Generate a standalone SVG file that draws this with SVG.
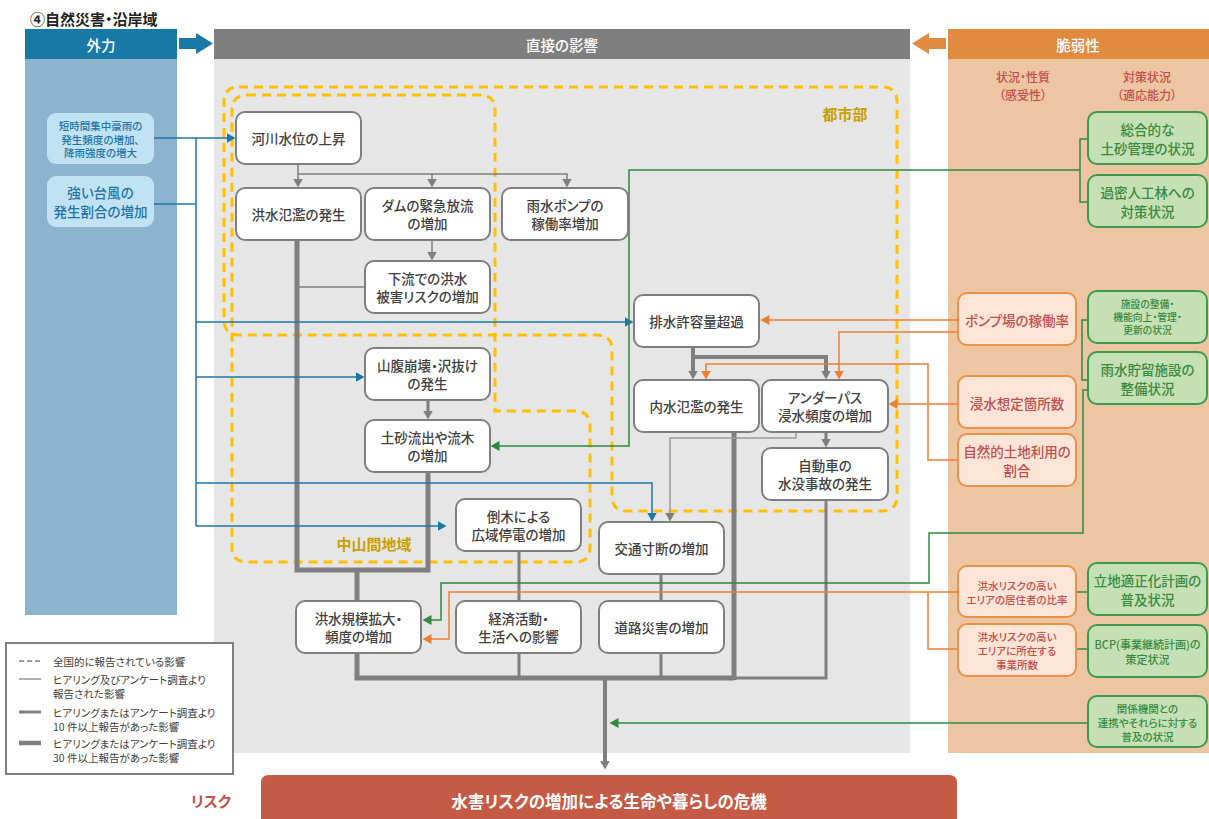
<svg xmlns="http://www.w3.org/2000/svg" width="1209" height="819" viewBox="0 0 1209 819">
<defs>
<style>
text{font-family:"Noto Sans CJK JP","Noto Sans",sans-serif;font-feature-settings:"palt" 1;}
.node rect{fill:#fff;stroke:#7f7f7f;stroke-width:2}
.nt{font-size:13.5px;fill:#404040;text-anchor:middle;dominant-baseline:central;font-weight:500}
.gbox rect{fill:#c5e0b4;stroke:#3d9a4a;stroke-width:2}
.gt{fill:#3a8a42;text-anchor:middle;dominant-baseline:central;font-weight:500}
.obox rect{fill:#fce4d6;stroke:#e8924a;stroke-width:2}
.ot{fill:#c0504d;text-anchor:middle;dominant-baseline:central;font-weight:500}
.bbox rect{fill:#c0e2f2;stroke:none}
.bt{fill:#1f74a8;text-anchor:middle;dominant-baseline:central;font-weight:500}
.hd{fill:#fff;font-size:14.5px;text-anchor:middle;dominant-baseline:central;font-weight:500}
.zone{fill:none;stroke:#ffc000;stroke-width:3;stroke-dasharray:9 6}
.zl{fill:#c9a000;font-size:15px;font-weight:bold;text-anchor:middle;dominant-baseline:central}
.g1{fill:none;stroke:#7f7f7f;stroke-width:1.5}
.g1l{fill:none;stroke:#9a9a9a;stroke-width:1.5}
.g3{fill:none;stroke:#7f7f7f;stroke-width:3}
.g4{fill:none;stroke:#7f7f7f;stroke-width:4}
.g5{fill:none;stroke:#7f7f7f;stroke-width:5}
.bl{fill:none;stroke:#1b77a8;stroke-width:1.5}
.gr{fill:none;stroke:#2e8b3e;stroke-width:1.5}
.or{fill:none;stroke:#ed7d31;stroke-width:1.5}
.lg{font-size:10.5px;fill:#404040;dominant-baseline:central}
</style>
<marker id="ag" markerUnits="userSpaceOnUse" markerWidth="10" markerHeight="10" refX="0.5" refY="5" orient="auto"><path d="M0,0 L9,5 L0,10 z" fill="#7f7f7f"/></marker>
<marker id="ab" markerUnits="userSpaceOnUse" markerWidth="10" markerHeight="10" refX="0.5" refY="5" orient="auto"><path d="M0,0 L9,5 L0,10 z" fill="#1b77a8"/></marker>
<marker id="an" markerUnits="userSpaceOnUse" markerWidth="10" markerHeight="10" refX="0.5" refY="5" orient="auto"><path d="M0,0 L9,5 L0,10 z" fill="#2e8b3e"/></marker>
<marker id="ao" markerUnits="userSpaceOnUse" markerWidth="10" markerHeight="10" refX="0.5" refY="5" orient="auto"><path d="M0,0 L9,5 L0,10 z" fill="#ed7d31"/></marker>
</defs>

<rect width="1209" height="819" fill="#fff"/>

<!-- panels -->
<g id="panels">
<text x="30" y="18" font-size="15" font-weight="bold" fill="#222" dominant-baseline="central">④自然災害・沿岸域</text>
<rect x="25" y="29" width="152" height="30" fill="#1878a6"/>
<rect x="25" y="59" width="152" height="556" fill="#8db4cf"/>
<text class="hd" x="101" y="44">外力</text>
<rect x="214" y="29" width="696" height="30" fill="#7f7f7f"/>
<rect x="214" y="59" width="696" height="694" fill="#e6e6e6"/>
<text class="hd" x="562" y="44">直接の影響</text>
<rect x="948" y="29" width="261" height="30" fill="#e18b41"/>
<rect x="948" y="59" width="261" height="694" fill="#edc5a1"/>
<text class="hd" x="1078" y="44">脆弱性</text>
<path d="M179,38 H196 V33 L213,43.5 L196,54 V49 H179 Z" fill="#1878a6"/>
<path d="M946,38 H929 V33 L912,43.5 L929,54 V49 H946 Z" fill="#e18b41"/>
<text x="1023" y="76" font-size="12" fill="#c0504d" text-anchor="middle" dominant-baseline="central" font-weight="500">状況・性質</text>
<text x="1023" y="94" font-size="12" fill="#c0504d" text-anchor="middle" dominant-baseline="central" font-weight="500">（感受性）</text>
<text x="1147" y="76" font-size="12" fill="#c0504d" text-anchor="middle" dominant-baseline="central" font-weight="500">対策状況</text>
<text x="1147" y="94" font-size="12" fill="#c0504d" text-anchor="middle" dominant-baseline="central" font-weight="500">（適応能力）</text>
</g>

<!-- zones -->
<g id="zones">
<path class="zone" d="M239,87 H882 Q897,87 897,102 V496 Q897,511 882,511 H627 Q612,511 612,496 V350 Q612,335 597,335 H239 Q224,335 224,320 V102 Q224,87 239,87 Z"/>
<path class="zone" d="M247,95 H480 Q495,95 495,110 V411 H575 Q590,411 590,426 V547 Q590,562 575,562 H247 Q232,562 232,547 V110 Q232,95 247,95 Z"/>
<text class="zl" x="845" y="113">都市部</text>
<text class="zl" x="374" y="543">中山間地域</text>
</g>

<!-- connectors -->
<g id="connectors">
<path class="g1" d="M298,164 V179" marker-end="url(#ag)"/>
<path class="g1" d="M298,174 H567 V179" marker-end="url(#ag)"/>
<path class="g1" d="M432,174 V179" marker-end="url(#ag)"/>
<path class="g1" d="M432,240 V252" marker-end="url(#ag)"/>
<path class="g1" d="M365,287 H298"/>
<path class="g5" d="M297,240 V570 H428 V472"/>
<path class="g5" d="M357,570 V601"/>
<path class="g3" d="M428,400 V411" marker-end="url(#ag)"/>
<path class="g3" d="M519,551 V601"/>
<path class="g3" d="M661,574 V601"/>
<path class="g5" d="M357,653 V678 H734"/>
<path class="g5" d="M734,432 V680"/>
<path class="g3" d="M734,678 H826 V500"/>
<path class="g3" d="M519,653 V678"/>
<path class="g3" d="M661,653 V678"/>
<path class="g4" d="M605,678 V761" marker-end="url(#ag)"/>
<path class="g4" d="M693,347 V371" marker-end="url(#ag)"/>
<path class="g4" d="M691,357 H826 V371" marker-end="url(#ag)"/>
<path class="g3" d="M826,432 V439" marker-end="url(#ag)"/>
<path class="g1l" d="M796,432 V438 H670 V513" marker-end="url(#ag)"/>

<path class="bl" d="M154,138 H227" marker-end="url(#ab)"/>
<path class="bl" d="M154,204 H196"/>
<path class="bl" d="M196,138 V526"/>
<path class="bl" d="M196,322 H625" marker-end="url(#ab)"/>
<path class="bl" d="M196,377 H356" marker-end="url(#ab)"/>
<path class="bl" d="M196,483 H652 V513" marker-end="url(#ab)"/>
<path class="bl" d="M196,526 H438" marker-end="url(#ab)"/>

<path class="gr" d="M1088,139 H1080 V202 H1088"/>
<path class="gr" d="M1080,170 H629 V446 H499" marker-end="url(#an)"/>
<path class="gr" d="M1088,320 H1082 V380 H1088"/>
<path class="gr" d="M1088,390 H1083 V533 H929 V583 H441 V620 H431" marker-end="url(#an)"/>
<path class="gr" d="M1077,592 H1088"/>
<path class="gr" d="M1077,649 H1088"/>
<path class="gr" d="M1088,723 H618" marker-end="url(#an)"/>

<path class="or" d="M958,320 H769" marker-end="url(#ao)"/>
<path class="or" d="M958,332 H839 V371" marker-end="url(#ao)"/>
<path class="or" d="M958,404 H897" marker-end="url(#ao)"/>
<path class="or" d="M958,460 H928 V364 H706 V371" marker-end="url(#ao)"/>
<path class="or" d="M958,592 H449 V639 H431" marker-end="url(#ao)"/>
<path class="or" d="M958,649 H928 V592"/>
</g>

<!-- external force boxes -->
<g id="f1" class="bbox"><rect x="47" y="113" width="107" height="51" rx="9"/>
<text class="bt" font-size="10.5" x="100.5" y="125.5">短時間集中豪雨の</text>
<text class="bt" font-size="10.5" x="100.5" y="139">発生頻度の増加、</text>
<text class="bt" font-size="10.5" x="100.5" y="152.5">降雨強度の増大</text></g>
<g id="f2" class="bbox"><rect x="47" y="176" width="107" height="51" rx="9"/>
<text class="bt" font-size="13.5" x="100.5" y="192">強い台風の</text>
<text class="bt" font-size="13.5" x="100.5" y="211">発生割合の増加</text></g>

<!-- impact nodes -->
<g id="n1" class="node"><rect x="236" y="112" width="125" height="52" rx="9"/><text class="nt" x="298.5" y="138">河川水位の上昇</text></g>
<g id="n2" class="node"><rect x="236" y="188" width="125" height="52" rx="9"/><text class="nt" x="298.5" y="214">洪水氾濫の発生</text></g>
<g id="n3" class="node"><rect x="365" y="188" width="125" height="52" rx="9"/><text class="nt" x="427.5" y="205">ダムの緊急放流</text><text class="nt" x="427.5" y="223">の増加</text></g>
<g id="n4" class="node"><rect x="502" y="188" width="126" height="52" rx="9"/><text class="nt" x="565" y="205">雨水ポンプの</text><text class="nt" x="565" y="223">稼働率増加</text></g>
<g id="n5" class="node"><rect x="365" y="261" width="125" height="52" rx="9"/><text class="nt" x="427.5" y="278">下流での洪水</text><text class="nt" x="427.5" y="296">被害リスクの増加</text></g>
<g id="n6" class="node"><rect x="634" y="295" width="125" height="52" rx="9"/><text class="nt" x="696.5" y="321">排水許容量超過</text></g>
<g id="n7" class="node"><rect x="634" y="380" width="125" height="52" rx="9"/><text class="nt" x="696.5" y="406">内水氾濫の発生</text></g>
<g id="n8" class="node"><rect x="762" y="380" width="126" height="52" rx="9"/><text class="nt" x="825" y="397">アンダーパス</text><text class="nt" x="825" y="415">浸水頻度の増加</text></g>
<g id="n9" class="node"><rect x="762" y="448" width="126" height="52" rx="9"/><text class="nt" x="825" y="465">自動車の</text><text class="nt" x="825" y="483">水没事故の発生</text></g>
<g id="n10" class="node"><rect x="365" y="348" width="125" height="52" rx="9"/><text class="nt" x="427.5" y="365">山腹崩壊・沢抜け</text><text class="nt" x="427.5" y="383">の発生</text></g>
<g id="n11" class="node"><rect x="365" y="420" width="125" height="52" rx="9"/><text class="nt" x="427.5" y="437">土砂流出や流木</text><text class="nt" x="427.5" y="455">の増加</text></g>
<g id="n12" class="node"><rect x="456" y="499" width="125" height="52" rx="9"/><text class="nt" x="518.5" y="516">倒木による</text><text class="nt" x="518.5" y="534">広域停電の増加</text></g>
<g id="n13" class="node"><rect x="599" y="522" width="125" height="52" rx="9"/><text class="nt" x="661.5" y="548">交通寸断の増加</text></g>
<g id="n14" class="node"><rect x="296" y="601" width="125" height="52" rx="9"/><text class="nt" x="358.5" y="618">洪水規模拡大・</text><text class="nt" x="358.5" y="636">頻度の増加</text></g>
<g id="n15" class="node"><rect x="456" y="601" width="125" height="52" rx="9"/><text class="nt" x="518.5" y="618">経済活動・</text><text class="nt" x="518.5" y="636">生活への影響</text></g>
<g id="n16" class="node"><rect x="599" y="601" width="125" height="52" rx="9"/><text class="nt" x="661.5" y="627">道路災害の増加</text></g>

<!-- vulnerability: sensitivity -->
<g id="s1" class="obox"><rect x="958" y="293" width="118" height="52" rx="9"/><text class="ot" font-size="13.5" x="1017" y="320">ポンプ場の稼働率</text></g>
<g id="s2" class="obox"><rect x="958" y="376" width="118" height="52" rx="9"/><text class="ot" font-size="13.5" x="1017" y="403">浸水想定箇所数</text></g>
<g id="s3" class="obox"><rect x="958" y="434" width="118" height="52" rx="9"/><text class="ot" font-size="13.5" x="1017" y="451">自然的土地利用の</text><text class="ot" font-size="13.5" x="1017" y="469.5">割合</text></g>
<g id="s4" class="obox"><rect x="958" y="566" width="118" height="51" rx="9"/><text class="ot" font-size="10.5" x="1017" y="585">洪水リスクの高い</text><text class="ot" font-size="10.5" x="1017" y="599">エリアの居住者の比率</text></g>
<g id="s5" class="obox"><rect x="958" y="624" width="118" height="52" rx="9"/><text class="ot" font-size="10.5" x="1017" y="636">洪水リスクの高い</text><text class="ot" font-size="10.5" x="1017" y="650">エリアに所在する</text><text class="ot" font-size="10.5" x="1017" y="664">事業所数</text></g>

<!-- vulnerability: adaptive capacity -->
<g id="a1" class="gbox"><rect x="1088" y="112" width="119" height="52" rx="9"/><text class="gt" font-size="13.5" x="1147.5" y="129">総合的な</text><text class="gt" font-size="13.5" x="1147.5" y="147.5">土砂管理の状況</text></g>
<g id="a2" class="gbox"><rect x="1088" y="175" width="119" height="52" rx="9"/><text class="gt" font-size="13.5" x="1147.5" y="192">過密人工林への</text><text class="gt" font-size="13.5" x="1147.5" y="210.5">対策状況</text></g>
<g id="a3" class="gbox"><rect x="1088" y="291" width="119" height="52" rx="9"/><text class="gt" font-size="9.8" x="1147.5" y="304">施設の整備・</text><text class="gt" font-size="9.8" x="1147.5" y="317">機能向上・管理・</text><text class="gt" font-size="9.8" x="1147.5" y="330">更新の状況</text></g>
<g id="a4" class="gbox"><rect x="1088" y="352" width="119" height="52" rx="9"/><text class="gt" font-size="13.5" x="1147.5" y="369">雨水貯留施設の</text><text class="gt" font-size="13.5" x="1147.5" y="387.5">整備状況</text></g>
<g id="a5" class="gbox"><rect x="1088" y="563" width="119" height="52" rx="9"/><text class="gt" font-size="13.5" x="1147.5" y="580">立地適正化計画の</text><text class="gt" font-size="13.5" x="1147.5" y="598.5">普及状況</text></g>
<g id="a6" class="gbox"><rect x="1088" y="625" width="119" height="52" rx="9"/><text class="gt" font-size="11" x="1147.5" y="644">BCP(事業継続計画)の</text><text class="gt" font-size="11" x="1147.5" y="658.5">策定状況</text></g>
<g id="a7" class="gbox"><rect x="1088" y="696" width="119" height="51" rx="9"/><text class="gt" font-size="10.5" x="1147.5" y="708">関係機関との</text><text class="gt" font-size="10.5" x="1147.5" y="722">連携やそれらに対する</text><text class="gt" font-size="10.5" x="1147.5" y="736">普及の状況</text></g>

<!-- legend -->
<g id="legend">
<rect x="6" y="643" width="227" height="131" fill="#fff" stroke="#7f7f7f" stroke-width="2"/>
<path d="M19,661 H41" stroke="#7f7f7f" stroke-width="1.5" stroke-dasharray="5 3"/>
<text class="lg" x="53" y="661">全国的に報告されている影響</text>
<path d="M19,679 H41" stroke="#7f7f7f" stroke-width="1.2"/>
<text class="lg" x="53" y="679">ヒアリング及びアンケート調査より</text>
<text class="lg" x="53" y="693">報告された影響</text>
<path d="M19,712 H41" stroke="#7f7f7f" stroke-width="3"/>
<text class="lg" x="53" y="712">ヒアリングまたはアンケート調査より</text>
<text class="lg" x="53" y="726">10 件以上報告があった影響</text>
<path d="M19,743 H41" stroke="#7f7f7f" stroke-width="4.5"/>
<text class="lg" x="53" y="743">ヒアリングまたはアンケート調査より</text>
<text class="lg" x="53" y="757">30 件以上報告があった影響</text>
</g>

<!-- risk -->
<g id="risk">
<text x="211" y="800" font-size="15" font-weight="bold" fill="#c0504d" text-anchor="middle" dominant-baseline="central">リスク</text>
<path d="M261,819 V783 Q261,775 269,775 H949 Q957,775 957,783 V819 Z" fill="#c55a45"/>
<text x="609" y="801" font-size="16.5" font-weight="bold" fill="#fff" text-anchor="middle" dominant-baseline="central">水害リスクの増加による生命や暮らしの危機</text>
</g>
</svg>
